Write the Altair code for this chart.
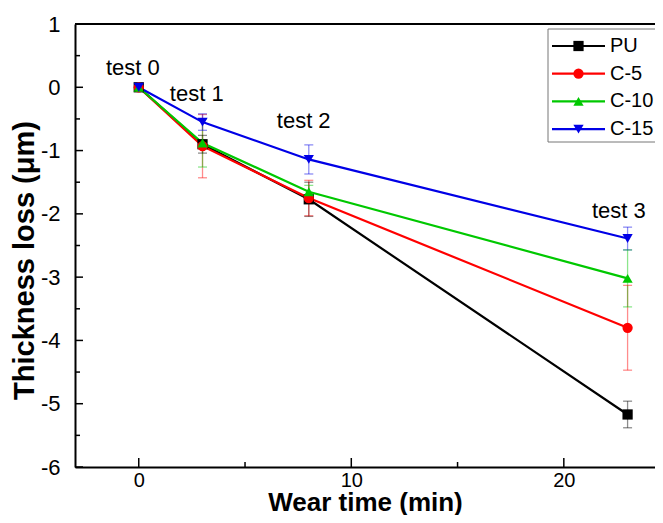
import altair as alt
import pandas as pd

# ---- data ----
times = [0, 3, 8, 23]
series = ["PU", "C-5", "C-10", "C-15"]
colors = ["#000000", "#FF0000", "#00C800", "#0000E6"]
shapes = ["square", "circle", "triangle-up", "triangle-down"]
pu_vals = [0.0, -0.90, -1.77, -5.17]
pu_err = [0.0, 0.14, 0.27, 0.21]
c5_vals = [0.0, -0.93, -1.75, -3.80]
c5_err = [0.0, 0.50, 0.28, 0.67]
c10_vals = [0.0, -0.88, -1.65, -3.02]
c10_err = [0.0, 0.38, 0.10, 0.45]
c15_vals = [0.0, -0.55, -1.14, -2.39]
c15_err = [0.0, 0.13, 0.23, 0.18]

ann_text = ["test 0", "test 1", "test 2", "test 3"]
ann_x = [-0.28, 2.73, 7.76, 22.59]
ann_y = [0.30, -0.10, -0.54, -1.96]

x_major = [0, 10, 20]
x_minor = [5, 15]
y_major = [-6, -5, -4, -3, -2, -1, 0, 1]
y_minor = [-5.5, -4.5, -3.5, -2.5, -1.5, -0.5, 0.5]

FONT = "Liberation Sans"
W, H = 580, 443
XDOM = [-3, 24.29]
YDOM = [-6, 1]

rows = []
for name, vals, errs in zip(series, [pu_vals, c5_vals, c10_vals, c15_vals],
                            [pu_err, c5_err, c10_err, c15_err]):
    for t, v, e in zip(times, vals, errs):
        rows.append({"series": name, "time": t, "loss": v, "lo": v - e, "hi": v + e})
df = pd.DataFrame(rows)

xs = alt.Scale(domain=XDOM, nice=False, zero=False)
ys = alt.Scale(domain=YDOM, nice=False, zero=False)
cs = alt.Scale(domain=series, range=colors)
ss = alt.Scale(domain=series, range=shapes)

x_axis = alt.Axis(values=x_major, ticks=False, tickSize=0, grid=False,
                  labelExpr="'' + datum.value",
                  labelFont=FONT, labelFontSize=20, labelColor="black", labelPadding=3,
                  domainColor="black", domainWidth=2,
                  title="Wear time (min)", titleFont=FONT, titleFontSize=26,
                  titleFontWeight="bold", titleColor="black",
                  titleBaseline="alphabetic", titleY=43)
y_axis = alt.Axis(values=y_major, ticks=False, tickSize=0, grid=False,
                  labelExpr="'' + datum.value",
                  labelFont=FONT, labelFontSize=22, labelColor="black", labelPadding=15,
                  domainColor="black", domainWidth=2,
                  title="Thickness loss (μm)", titleFont=FONT, titleFontSize=29,
                  titleFontWeight="bold", titleColor="black",
                  titleBaseline="alphabetic", titleX=-42, titleY=236)

base = alt.Chart(df)

err_bars = base.mark_rule(strokeWidth=1.3, opacity=0.45).encode(
    x=alt.X("time:Q", scale=xs, axis=x_axis),
    y=alt.Y("lo:Q", scale=ys, axis=y_axis),
    y2="hi:Q",
    color=alt.Color("series:N", scale=cs, legend=None),
)
cap_lo = base.mark_tick(orient="horizontal", size=9, thickness=1.3, opacity=0.45).encode(
    x=alt.X("time:Q", scale=xs), y=alt.Y("lo:Q", scale=ys),
    color=alt.Color("series:N", scale=cs, legend=None),
)
cap_hi = base.mark_tick(orient="horizontal", size=9, thickness=1.3, opacity=0.45).encode(
    x=alt.X("time:Q", scale=xs), y=alt.Y("hi:Q", scale=ys),
    color=alt.Color("series:N", scale=cs, legend=None),
)
lines = base.mark_line(strokeWidth=2.2).encode(
    x=alt.X("time:Q", scale=xs), y=alt.Y("loss:Q", scale=ys),
    color=alt.Color("series:N", scale=cs, legend=None),
    detail="series:N",
)
points = base.mark_point(filled=True, opacity=1, size=105).encode(
    x=alt.X("time:Q", scale=xs), y=alt.Y("loss:Q", scale=ys),
    color=alt.Color("series:N", scale=cs, legend=None),
    shape=alt.Shape("series:N", scale=ss, legend=None),
)

ann_df = pd.DataFrame({"text": ann_text, "x": ann_x, "y": ann_y})
ann = alt.Chart(ann_df).mark_text(font=FONT, fontSize=22, color="black",
                                  baseline="middle", align="center").encode(
    x=alt.X("x:Q", scale=xs), y=alt.Y("y:Q", scale=ys), text="text:N")

# inward ticks
xt_major = alt.Chart(pd.DataFrame({"v": x_major})).mark_rule(color="black", strokeWidth=1.5).encode(
    x=alt.X("v:Q", scale=xs), y=alt.value(H), y2=alt.value(H - 9))
xt_minor = alt.Chart(pd.DataFrame({"v": x_minor})).mark_rule(color="black", strokeWidth=1.5).encode(
    x=alt.X("v:Q", scale=xs), y=alt.value(H), y2=alt.value(H - 5))
yt_major = alt.Chart(pd.DataFrame({"v": y_major})).mark_rule(color="black", strokeWidth=1.5).encode(
    y=alt.Y("v:Q", scale=ys), x=alt.value(0), x2=alt.value(8))
yt_minor = alt.Chart(pd.DataFrame({"v": y_minor})).mark_rule(color="black", strokeWidth=1.5).encode(
    y=alt.Y("v:Q", scale=ys), x=alt.value(0), x2=alt.value(5))
top_border = alt.Chart(pd.DataFrame({"v": [0]})).mark_rule(color="black", strokeWidth=2).encode(
    x=alt.value(0), x2=alt.value(W + 20), y=alt.value(0))

# legend (manual, line + marker)
LX0, LX1, LXM, LTX = 477, 530, 503.5, 535
LY0, LDY = 22, 27.7
leg_box = alt.Chart(pd.DataFrame({"v": [0]})).mark_rect(
    fill="white", stroke="#777777", strokeWidth=1).encode(
    x=alt.value(473), x2=alt.value(W + 40), y=alt.value(5), y2=alt.value(118))
legend_layers = [leg_box]
for i, (name, col, shp) in enumerate(zip(series, colors, shapes)):
    yy = LY0 + LDY * i
    one = pd.DataFrame({"series": [name]})
    legend_layers.append(alt.Chart(one).mark_rule(color=col, strokeWidth=2.2).encode(
        x=alt.value(LX0), x2=alt.value(LX1), y=alt.value(yy)))
    legend_layers.append(alt.Chart(one).mark_point(filled=True, opacity=1, size=105,
                                                   color=col, shape=shp).encode(
        x=alt.value(LXM), y=alt.value(yy)))
    legend_layers.append(alt.Chart(one).mark_text(font=FONT, fontSize=20, color="black",
                                                  align="left", baseline="middle").encode(
        x=alt.value(LTX), y=alt.value(yy), text="series:N"))

chart = alt.layer(
    err_bars, cap_lo, cap_hi, lines, points, ann,
    xt_major, xt_minor, yt_major, yt_minor, top_border,
    *legend_layers,
).properties(
    width=W, height=H,
    autosize=alt.AutoSizeParams(type="none"),
    padding={"left": 67, "top": 16, "right": 0, "bottom": 48},
).configure_view(stroke=None).configure(background="white")

chart.save("out.html", embed_options={"renderer": "svg", "actions": False})
